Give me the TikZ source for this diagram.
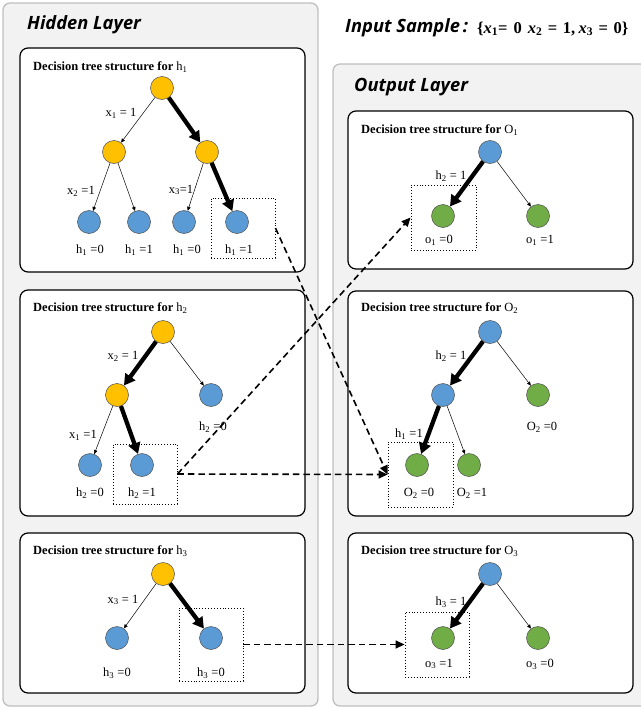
\documentclass[tikz,border=0pt]{standalone}
\usepackage{fontspec}
\setmainfont{Liberation Serif}
\newfontfamily\headfont{Open Sans}
\usetikzlibrary{arrows.meta}

\definecolor{panelfill}{HTML}{F2F2F2}
\definecolor{panelline}{HTML}{BFBFBF}
\definecolor{orangeC}{HTML}{FFC000}
\definecolor{blueC}{HTML}{5B9BD5}
\definecolor{greenC}{HTML}{70AD47}

\newcommand{\sbx}[1]{\textsubscript{#1}}
\newcommand{\vx}[1]{\textit{x}\textsubscript{#1}}
\newcommand{\eqs}{\hspace{5.5pt}=\hspace{5.5pt}}

\tikzset{
  panel/.style={fill=panelfill, draw=panelline, line width=1.3pt, rounded corners=7pt},
  treebox/.style={fill=white, draw=black, line width=1.2pt, rounded corners=8pt},
  tnode/.style={circle, minimum size=23pt, inner sep=0pt, draw=black!70, line width=0.5pt},
  onode/.style={tnode, fill=orangeC},
  bnode/.style={tnode, fill=blueC},
  gnode/.style={tnode, fill=greenC},
  thinedge/.style={line width=0.5pt, -{Triangle[length=4pt,width=3.5pt]}},
  thickedge/.style={line width=4.3pt, -{Triangle[length=11pt,width=12pt]}},
  selbox/.style={draw, dotted, line width=0.9pt, inner sep=0pt},
  link/.style={line width=1.6pt, dash pattern=on 6.5pt off 4pt, -{Triangle[length=9pt,width=8pt]}},
  lbl/.style={font=\fontsize{12.5}{13}\selectfont, inner sep=0pt},
  boxtitle/.style={anchor=west, inner sep=0pt, font=\fontsize{12.5}{13}\selectfont\bfseries},
  layertitle/.style={anchor=west, inner sep=0pt, font=\headfont\bfseries\itshape\fontsize{18.3}{19}\selectfont},
  valstyle/.style={anchor=west, inner sep=0pt, font=\fontsize{16.5}{17}\selectfont\bfseries},
}

\begin{document}
\begin{tikzpicture}[x=1pt, y=-1pt]
\useasboundingbox (0,0) rectangle (640,709);

% layer panels
\draw[panel] (3,3) rectangle (318,706);
\draw[panel] (333,64) rectangle (650,706);
\node[layertitle] (hidtitle) at (27,25) {Hidden Layer};
\node[layertitle] (outtitle) at (354,87) {Output Layer};
\node[layertitle] (intitle) at (345,28) {Input Sample\hspace{3pt}:};
\node[valstyle] (invals) at (477,29) {\{\vx{1}=\hspace{6pt}0\hspace{6pt}\vx{2}\eqs 1,\hspace{3.5pt}\vx{3}\eqs 0\}};

% tree boxes
\draw[treebox] (20,48) rectangle (305,272);
\draw[treebox] (20,290) rectangle (305,516);
\draw[treebox] (20,533) rectangle (305,693);
\draw[treebox] (348,111) rectangle (633,269);
\draw[treebox] (348,291) rectangle (633,516);
\draw[treebox] (348,533) rectangle (633,693);

% ---------- h1 ----------
\node[boxtitle] (t1) at (33,67) {Decision tree structure for \textmd{h\sbx{1}}};
\node[onode] (a0) at (162,88) {};
\node[onode] (a1) at (114,152) {};
\node[onode] (a2) at (207,152) {};
\node[bnode] (a3) at (89,222) {};
\node[bnode] (a4) at (139,222) {};
\node[bnode] (a5) at (184,222) {};
\node[bnode] (a6) at (237,222) {};
\draw[thinedge] (a0) -- (a1);
\draw[thickedge] (a0) -- (a2);
\draw[thinedge] (a1) -- (a3);
\draw[thinedge] (a1) -- (a4);
\draw[thinedge] (a2) -- (a5);
\draw[thickedge] (a2) -- (a6);
\node[lbl] (la1) at (121,113) {x\sbx{1} = 1};
\node[lbl] (la2) at (81,191) {x\sbx{2} =1};
\node[lbl] (la3) at (181,190) {x\sbx{3}=1};
\node[lbl] (la4) at (90,250) {h\sbx{1} =0};
\node[lbl] (la5) at (139,250) {h\sbx{1} =1};
\node[lbl] (la6) at (187,250) {h\sbx{1} =0};
\node[lbl] (la7) at (239,250) {h\sbx{1} =1};
\node[selbox, minimum width=64pt, minimum height=60pt] (s1) at (243,228) {};

% ---------- h2 ----------
\node[boxtitle] (t2) at (33,308) {Decision tree structure for \textmd{h\sbx{2}}};
\node[onode] (b0) at (163,332) {};
\node[onode] (b1) at (117,395) {};
\node[bnode] (b2) at (211,395) {};
\node[bnode] (b3) at (90,465) {};
\node[bnode] (b4) at (142,465) {};
\draw[thickedge] (b0) -- (b1);
\draw[thinedge] (b0) -- (b2);
\draw[thinedge] (b1) -- (b3);
\draw[thickedge] (b1) -- (b4);
\node[lbl] (lb1) at (123,356) {x\sbx{2} = 1};
\node[lbl] (lb2) at (83,435) {x\sbx{1} =1};
\node[lbl] (lb3) at (213,427) {h\sbx{2} =0};
\node[lbl] (lb4) at (90,493) {h\sbx{2} =0};
\node[lbl] (lb5) at (142,493) {h\sbx{2} =1};
\node[selbox, minimum width=64pt, minimum height=60pt] (s2) at (145,474) {};

% ---------- h3 ----------
\node[boxtitle] (t3) at (33,551) {Decision tree structure for \textmd{h\sbx{3}}};
\node[onode] (c0) at (163,574) {};
\node[bnode] (c1) at (117,638) {};
\node[bnode] (c2) at (211,638) {};
\draw[thinedge] (c0) -- (c1);
\draw[thickedge] (c0) -- (c2);
\node[lbl] (lc1) at (123,600) {x\sbx{3} = 1};
\node[lbl] (lc2) at (117,673) {h\sbx{3} =0};
\node[lbl] (lc3) at (211,673) {h\sbx{3} =0};
\node[selbox, minimum width=64pt, minimum height=73pt] (s5) at (211,644.5) {};

% ---------- O1 ----------
\node[boxtitle] (t4) at (361,130) {Decision tree structure for \textmd{O\sbx{1}}};
\node[bnode] (d0) at (490,152) {};
\node[gnode] (d1) at (443,216) {};
\node[gnode] (d2) at (538,216) {};
\draw[thickedge] (d0) -- (d1);
\draw[thinedge] (d0) -- (d2);
\node[lbl] (ld1) at (451,176) {h\sbx{2} = 1};
\node[lbl] (ld2) at (439,240) {o\sbx{1} =0};
\node[lbl] (ld3) at (540,240) {o\sbx{1} =1};
\node[selbox, minimum width=65pt, minimum height=65pt] (s3) at (443.5,217.5) {};

% ---------- O2 ----------
\node[boxtitle] (t5) at (361,308) {Decision tree structure for \textmd{O\sbx{2}}};
\node[bnode] (e0) at (490,332) {};
\node[bnode] (e1) at (443,395) {};
\node[gnode] (e2) at (538,395) {};
\node[gnode] (e3) at (417,465) {};
\node[gnode] (e4) at (469,465) {};
\draw[thickedge] (e0) -- (e1);
\draw[thinedge] (e0) -- (e2);
\draw[thickedge] (e1) -- (e3);
\draw[thinedge] (e1) -- (e4);
\node[lbl] (le1) at (451,356) {h\sbx{2} = 1};
\node[lbl] (le2) at (409,434) {h\sbx{1} =1};
\node[lbl] (le3) at (542,427) {O\sbx{2} =0};
\node[lbl] (le4) at (419,493) {O\sbx{2} =0};
\node[lbl] (le5) at (472,493) {O\sbx{2} =1};
\node[selbox, minimum width=65pt, minimum height=65pt] (s4) at (420.5,474.5) {};

% ---------- O3 ----------
\node[boxtitle] (t6) at (361,551) {Decision tree structure for \textmd{O\sbx{3}}};
\node[bnode] (f0) at (490,574) {};
\node[gnode] (f1) at (443,638) {};
\node[gnode] (f2) at (538,638) {};
\draw[thickedge] (f0) -- (f1);
\draw[thinedge] (f0) -- (f2);
\node[lbl] (lf1) at (451,602) {h\sbx{3} = 1};
\node[lbl] (lf2) at (439,664) {o\sbx{3} =1};
\node[lbl] (lf3) at (540,664) {o\sbx{3} =0};
\node[selbox, minimum width=64pt, minimum height=65pt] (s6) at (437,644.5) {};

% links from hidden outputs to output trees
\draw[link] (s1.east) -- (s4.west);
\draw[link] (s2.east) -- (s4.west);
\draw[link] (s2.east) -- (s3.west);
\draw[link] (s5.east) -- (s6.west);
\end{tikzpicture}
\end{document}
